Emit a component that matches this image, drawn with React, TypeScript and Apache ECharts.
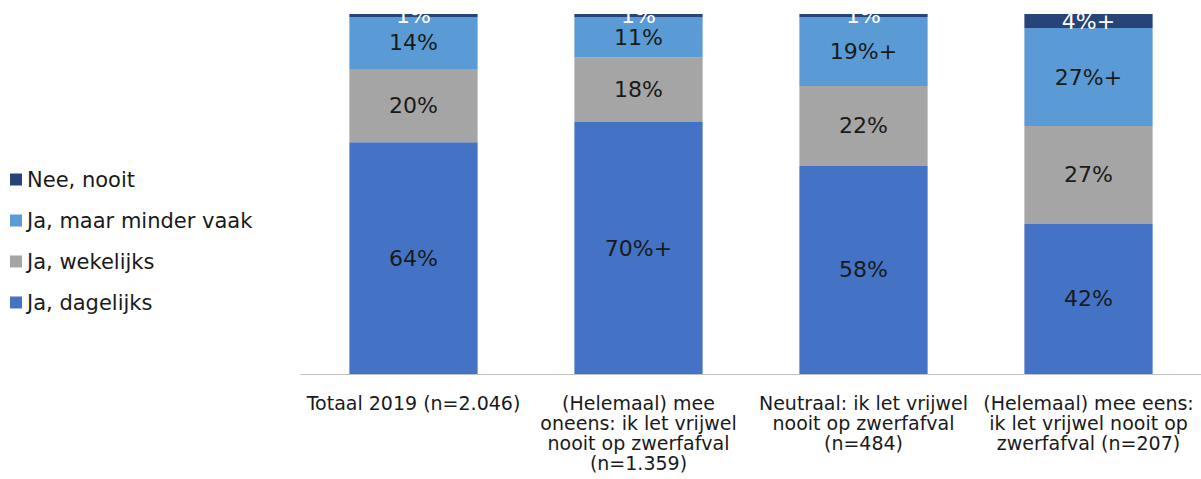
import React, { useEffect, useRef } from "react";
import * as echarts from "echarts";

const categories = [
  "Totaal 2019 (n=2.046)",
  "(Helemaal) mee\noneens: ik let vrijwel\nnooit op zwerfafval\n(n=1.359)",
  "Neutraal: ik let vrijwel\nnooit op zwerfafval\n(n=484)",
  "(Helemaal) mee eens:\nik let vrijwel nooit op\nzwerfafval (n=207)",
];

const seriesNames = ["Ja, dagelijks", "Ja, wekelijks", "Ja, maar minder vaak", "Nee, nooit"];
const seriesColors = ["#4472C4", "#A5A5A5", "#5B9BD5", "#264478"];
const labelColors = ["#1a1a1a", "#1a1a1a", "#1a1a1a", "#ffffff"];

const dagelijks = [64.4, 70.0, 57.8, 41.7];
const wekelijks = [20.3, 18.0, 22.2, 27.2];
const minderVaak = [14.5, 11.2, 19.2, 27.2];
const nooit = [0.8, 0.8, 0.8, 3.9];

const dagelijksLabels = ["64%", "70%+", "58%", "42%"];
const wekelijksLabels = ["20%", "18%", "22%", "27%"];
const minderVaakLabels = ["14%", "11%", "19%+", "27%+"];
const nooitLabels = ["1%", "1%", "1%", "4%+"];

const values = [dagelijks, wekelijks, minderVaak, nooit];
const labels = [dagelijksLabels, wekelijksLabels, minderVaakLabels, nooitLabels];

const FONT = "Verdana, 'DejaVu Sans', sans-serif";

export default function App() {
  const ref = useRef<HTMLDivElement>(null);
  useEffect(() => {
    if (!ref.current) return;
    const chart = echarts.init(ref.current, undefined, { renderer: "svg" });
    chart.setOption({
      animation: false,
      textStyle: { fontFamily: FONT },
      grid: { left: 301, right: 0, top: 14, bottom: 105, containLabel: false },
      legend: {
        orient: "vertical",
        left: 10,
        top: 169,
        padding: 0,
        itemWidth: 12,
        itemHeight: 12,
        itemGap: 20,
        icon: "rect",
        data: [seriesNames[3], seriesNames[2], seriesNames[1], seriesNames[0]],
        textStyle: { fontSize: 21, color: "#1a1a1a", fontFamily: FONT },
      },
      xAxis: {
        type: "category",
        data: categories,
        axisLine: { lineStyle: { color: "#bfbfbf", width: 1 } },
        axisTick: { show: false },
        axisLabel: {
          interval: 0,
          fontSize: 19,
          lineHeight: 20,
          color: "#1a1a1a",
          margin: 19,
          fontFamily: FONT,
          verticalAlign: "top",
        },
      },
      yAxis: { type: "value", min: 0, max: 100, show: false, splitLine: { show: false } },
      series: seriesNames.map((name, i) => ({
        name,
        type: "bar",
        stack: "total",
        barWidth: "57%",
        itemStyle: { color: seriesColors[i] },
        label: {
          show: true,
          position: "inside",
          fontSize: 22,
          color: labelColors[i],
          fontFamily: FONT,
          formatter: (p: any) => labels[i][p.dataIndex],
        },
        data: values[i],
      })),
    });
    return () => chart.dispose();
  }, []);
  return (
    <div
      ref={ref}
      style={{ position: "absolute", left: 0, top: 0, width: 1201, height: 479 }}
    />
  );
}
